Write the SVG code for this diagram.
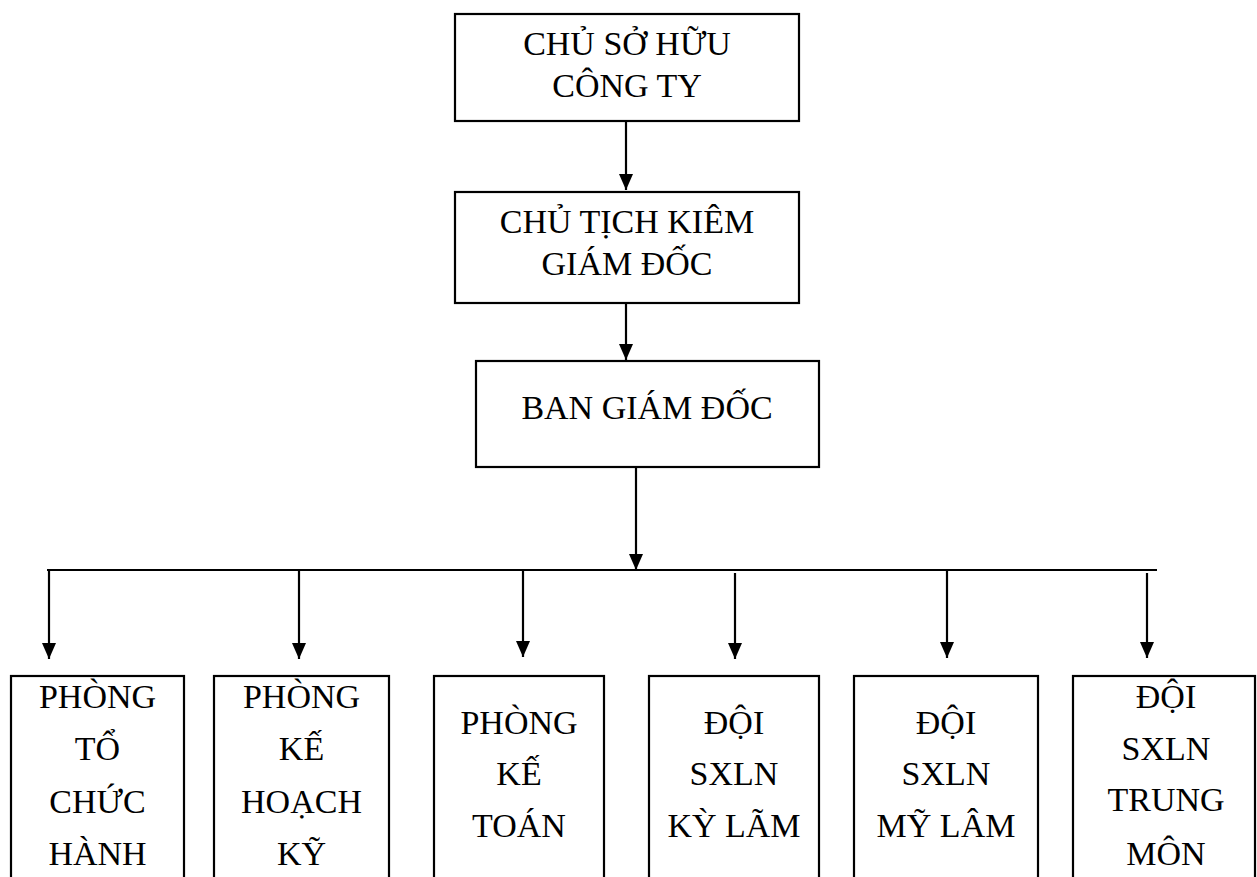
<svg xmlns="http://www.w3.org/2000/svg" width="1257" height="877" viewBox="0 0 1257 877">
<style>
.box{fill:#fff;stroke:#000;stroke-width:2.2}
.t{font-family:"Liberation Serif","Times New Roman",serif;font-size:34px;fill:#000;text-anchor:middle}
.c{stroke:#000;stroke-width:2.2;fill:none}
</style>
<defs>
<marker id="ah" markerUnits="userSpaceOnUse" markerWidth="16" markerHeight="14" refX="16" refY="7" orient="auto">
<path d="M0,0 L16,7 L0,14 z" fill="#000"/>
</marker>
</defs>
<rect width="1257" height="877" fill="#fff"/>
<g id="connectors">
<line class="c" x1="626" y1="121" x2="626" y2="190" marker-end="url(#ah)"/>
<line class="c" x1="626" y1="303" x2="626" y2="360" marker-end="url(#ah)"/>
<line class="c" x1="636" y1="467" x2="636" y2="570" marker-end="url(#ah)"/>
<line class="c" x1="47" y1="570" x2="1157" y2="570"/>
<line class="c" x1="49" y1="571" x2="49" y2="659" marker-end="url(#ah)"/>
<line class="c" x1="299" y1="571" x2="299" y2="659" marker-end="url(#ah)"/>
<line class="c" x1="523" y1="571" x2="523" y2="657" marker-end="url(#ah)"/>
<line class="c" x1="735" y1="573" x2="735" y2="659" marker-end="url(#ah)"/>
<line class="c" x1="947" y1="571" x2="947" y2="658" marker-end="url(#ah)"/>
<line class="c" x1="1147" y1="573" x2="1147" y2="658" marker-end="url(#ah)"/>
</g>
<g id="n-owner">
<rect class="box" x="455" y="14" width="344" height="107"/>
<text class="t" x="627" y="55">CHỦ SỞ HỮU</text>
<text class="t" x="627" y="97">CÔNG TY</text>
</g>
<g id="n-chairman">
<rect class="box" x="455" y="192" width="344" height="111"/>
<text class="t" x="627" y="233">CHỦ TỊCH KIÊM</text>
<text class="t" x="627" y="275">GIÁM ĐỐC</text>
</g>
<g id="n-board">
<rect class="box" x="476" y="361" width="343" height="106"/>
<text class="t" x="647" y="419">BAN GIÁM ĐỐC</text>
</g>
<g id="n-tchc">
<rect class="box" x="11" y="676" width="173" height="220"/>
<text class="t" x="97.5" y="708">PHÒNG</text>
<text class="t" x="97.5" y="760">TỔ</text>
<text class="t" x="97.5" y="813">CHỨC</text>
<text class="t" x="97.5" y="865">HÀNH</text>
</g>
<g id="n-khkt">
<rect class="box" x="214" y="676" width="175" height="220"/>
<text class="t" x="301.5" y="708">PHÒNG</text>
<text class="t" x="301.5" y="760">KẾ</text>
<text class="t" x="301.5" y="813">HOẠCH</text>
<text class="t" x="301.5" y="865">KỸ</text>
</g>
<g id="n-kt">
<rect class="box" x="434" y="676" width="170" height="220"/>
<text class="t" x="519" y="734">PHÒNG</text>
<text class="t" x="519" y="785">KẾ</text>
<text class="t" x="519" y="837">TOÁN</text>
</g>
<g id="n-kylam">
<rect class="box" x="649" y="676" width="170" height="220"/>
<text class="t" x="734" y="734">ĐỘI</text>
<text class="t" x="734" y="785">SXLN</text>
<text class="t" x="734" y="837">KỲ LÃM</text>
</g>
<g id="n-mylam">
<rect class="box" x="854" y="676" width="184" height="220"/>
<text class="t" x="946" y="734">ĐỘI</text>
<text class="t" x="946" y="785">SXLN</text>
<text class="t" x="946" y="837">MỸ LÂM</text>
</g>
<g id="n-trungmon">
<rect class="box" x="1073" y="676" width="182" height="220"/>
<text class="t" x="1166" y="708">ĐỘI</text>
<text class="t" x="1166" y="760">SXLN</text>
<text class="t" x="1166" y="811">TRUNG</text>
<text class="t" x="1166" y="865">MÔN</text>
</g>
</svg>
